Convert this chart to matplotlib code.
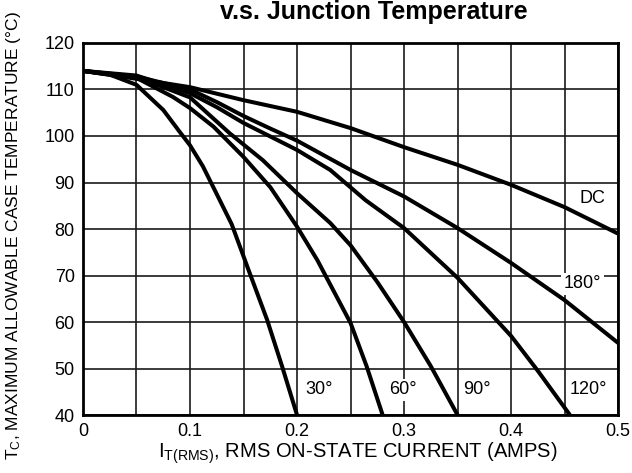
import matplotlib.pyplot as plt

plt.rcParams['font.family'] = ['Liberation Sans', 'DejaVu Sans']
plt.rcParams['mathtext.fontset'] = 'custom'
plt.rcParams['mathtext.rm'] = 'Liberation Sans'
plt.rcParams['mathtext.it'] = 'Liberation Sans'

# curves: (current in A, case temperature in degC)
dc_x = [0, 0.05, 0.1, 0.15, 0.2, 0.25, 0.3, 0.35, 0.4, 0.45, 0.5]
dc_y = [114, 112.3, 110.5, 107.7, 105.2, 101.7, 97.6, 93.8, 89.5, 84.7, 79]

c180_x = [0, 0.05, 0.1, 0.125, 0.15, 0.175, 0.2, 0.25, 0.3, 0.35, 0.4, 0.45, 0.5]
c180_y = [114, 112.8, 110, 107.3, 104.3, 101.6, 99, 92.7, 87, 80.2, 72.7, 64.7, 55.5]

c120_x = [0, 0.05, 0.1, 0.125, 0.15, 0.2, 0.231, 0.264, 0.3, 0.35, 0.4, 0.425, 0.455]
c120_y = [114, 113, 109.2, 106.2, 102.8, 97, 92.7, 86.2, 80.2, 69.5, 57, 49.5, 40]

c90_x = [0, 0.05, 0.1, 0.137, 0.168, 0.2, 0.231, 0.25, 0.275, 0.3, 0.325, 0.35]
c90_y = [114, 112.7, 108.3, 100.6, 94.8, 87.7, 81.3, 76.5, 68.6, 60, 50.5, 40]

c60_x = [0, 0.05, 0.084, 0.1, 0.122, 0.15, 0.175, 0.2, 0.219, 0.25, 0.265, 0.28]
c60_y = [114, 112.5, 108.4, 106, 102, 95.5, 89, 80.5, 73.3, 59.8, 50.5, 40]

c30_x = [0, 0.025, 0.05, 0.075, 0.09, 0.1, 0.112, 0.125, 0.139, 0.155, 0.172, 0.186, 0.2]
c30_y = [114, 113.2, 111, 105.6, 101, 98, 93.5, 87.5, 81, 71, 60.5, 50.5, 40]

curves = [(dc_x, dc_y), (c180_x, c180_y), (c120_x, c120_y),
          (c90_x, c90_y), (c60_x, c60_y), (c30_x, c30_y)]

labels = ['DC', '180°', '30°', '60°', '90°', '120°']
label_x = [0.476, 0.467, 0.221, 0.299, 0.368, 0.472]
label_y = [86.5, 68.2, 45.4, 45.4, 45.4, 45.4]

y_ticks = [40, 50, 60, 70, 80, 90, 100, 110, 120]

fig = plt.figure(figsize=(6.32, 4.73), dpi=100)
ax = fig.add_axes([0.1313, 0.1226, 0.8467, 0.7865])

for cx, cy in curves:
    ax.plot(cx, cy, color='black', lw=2.9, solid_capstyle='butt',
            solid_joinstyle='round', zorder=4)

for t, lx, ly in zip(labels, label_x, label_y):
    ax.text(lx, ly, t, fontsize=13, ha='center', va='center', zorder=3,
            bbox=dict(facecolor='white', edgecolor='none', pad=2))

ax.set_xlim(0, 0.5)
ax.set_ylim(40, 120)
ax.set_xticks([i * 0.05 for i in range(11)])
ax.set_xticklabels(['0', '', '0.1', '', '0.2', '', '0.3', '', '0.4', '', '0.5'])
ax.set_yticks(y_ticks)
ax.set_yticklabels([str(v) for v in y_ticks])
ax.tick_params(length=0, labelsize=13, pad=6)
ax.set_axisbelow(True)
ax.grid(True, color='#1a1a1a', lw=1.2)
for s in ax.spines.values():
    s.set_linewidth(2)

ax.set_xlabel(r'$\mathregular{I_{T(RMS)}}$, RMS ON-STATE CURRENT (AMPS)', fontsize=14.5)
ax.xaxis.set_label_coords((358 - 83) / 535, -(458 - 415) / 372)
ax.xaxis.label.set_va('baseline')
ax.set_ylabel(r'$\mathregular{T_C}$, MAXIMUM ALLOWABLE CASE TEMPERATURE (°C)', fontsize=12.5)
ax.yaxis.set_label_coords(-(83 - 14) / 535, (415 - 236) / 372)
ax.yaxis.label.set_va('center')

fig.text(374 / 632, 1 - 19 / 473, 'v.s. Junction Temperature', fontsize=18,
         fontweight='bold', ha='center', va='baseline')

fig.savefig('out.png', dpi=100)
